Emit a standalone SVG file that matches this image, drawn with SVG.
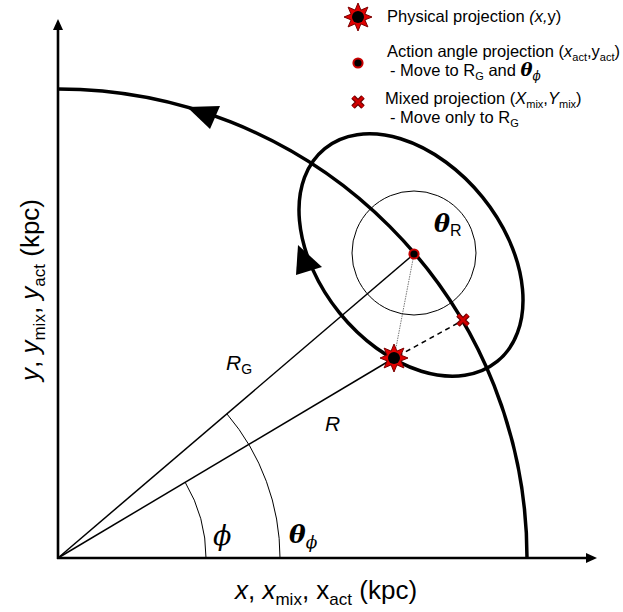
<svg xmlns="http://www.w3.org/2000/svg" width="623" height="612" viewBox="0 0 623 612">
<style>
.sans{font-family:"Liberation Sans",Arial,sans-serif;fill:#000}
.leg{font-size:16.5px}
.sub{font-size:11px}
.ax{font-size:26px}
.axsub{font-size:17px}
.gr{font-family:"DejaVu Serif","Liberation Serif",serif;font-style:italic;fill:#000}
.bi{font-weight:bold}
.thick{fill:none;stroke:#000;stroke-width:3.5}
.axis{fill:none;stroke:#000;stroke-width:2.6}
.ray{fill:none;stroke:#000;stroke-width:1.5}
.thin{fill:none;stroke:#000;stroke-width:1}
</style>
<defs>
<polygon id="star" points="0,-14 2.9,-6.9 9.9,-9.9 6.9,-2.9 14,0 6.9,2.9 9.9,9.9 2.9,6.9 0,14 -2.9,6.9 -9.9,9.9 -6.9,2.9 -14,0 -6.9,-2.9 -9.9,-9.9 -2.9,-6.9" fill="#e00000" stroke="#7a0000" stroke-width="1"/>
<g id="phys"><use href="#star"/><circle r="6" fill="#000"/></g>
<circle id="act" r="4.6" fill="#000" stroke="#c80000" stroke-width="2"/>
<g id="mix"><path d="M-5,-5L5,5M5,-5L-5,5" stroke="#6a0000" stroke-width="5"/><path d="M-5,-5L5,5M5,-5L-5,5" stroke="#d00000" stroke-width="2.6"/></g>
</defs>

<g id="axes">
<path class="axis" d="M58,559V29"/>
<polygon points="58,19 53,30 63,30" fill="#000"/>
<path class="axis" d="M57,558H587"/>
<polygon points="597,558 586,553 586,563" fill="#000"/>
<text class="sans ax" x="235" y="599"><tspan font-style="italic">x</tspan>, <tspan font-style="italic">x</tspan><tspan class="axsub" dy="6">mix</tspan><tspan dy="-6">, x</tspan><tspan class="axsub" dy="6">act</tspan><tspan dy="-6"> (kpc)</tspan></text>
<text class="sans ax" transform="translate(39,290) rotate(-90)" text-anchor="middle"><tspan font-style="italic">y</tspan>, <tspan font-style="italic">y</tspan><tspan class="axsub" dy="6">mix</tspan><tspan dy="-6">, </tspan><tspan font-style="italic">y</tspan><tspan class="axsub" dy="6">act</tspan><tspan dy="-6"> (kpc)</tspan></text>
</g>

<g id="orbit">
<path class="thick" d="M58,89A469,469 0 0 1 527,558"/>
<polygon points="187,107 220,106 210,129" fill="#000"/>
</g>

<g id="epicycle">
<ellipse class="thick" cx="411" cy="255" rx="137" ry="92" transform="rotate(51 411 255)"/>
<polygon points="298,245 296,275 322,267" fill="#000"/>
</g>

<g id="connectors">
<path class="ray" d="M58,558L414,254"/>
<path class="ray" d="M58,558L394,358"/>
<path fill="none" stroke="#000" stroke-width="1.5" stroke-dasharray="5,4" d="M398,356L458,323"/>
<path fill="none" stroke="#777" stroke-width="1" stroke-dasharray="1.5,1" d="M414,254L394,358"/>
<path class="thin" d="M206,558A148,148 0 0 0 185.2,482.3"/>
<path class="thin" d="M280,558A222,222 0 0 0 227,414"/>
<circle class="thin" cx="414" cy="253" r="62"/>
</g>

<g id="labels">
<text class="sans" font-size="21" font-style="italic" x="226" y="370">R<tspan font-style="normal" font-size="14" dy="4">G</tspan></text>
<text class="sans" font-size="21" font-style="italic" x="325" y="431">R</text>
<text class="gr" font-size="27" x="213" y="545">ϕ</text>
<text class="gr bi" font-size="25" x="289" y="543">θ<tspan class="gr" font-weight="normal" font-size="17" dy="5">ϕ</tspan></text>
<text class="gr bi" font-size="24" x="434" y="232">θ<tspan class="sans" font-style="normal" font-weight="normal" font-size="16" dy="4">R</tspan></text>
</g>

<g id="guiding-center"><use href="#act" x="414" y="254"/></g>
<g id="physical-point"><use href="#phys" x="394" y="358"/></g>
<g id="mixed-point"><use href="#mix" x="463" y="320"/></g>

<g id="legend">
<use href="#phys" x="358" y="17"/>
<text class="sans leg" x="387" y="22">Physical projection <tspan font-style="italic">(x,</tspan>y)</text>
<use href="#act" x="358" y="63"/>
<text class="sans leg" x="387" y="57">Action angle projection (<tspan font-style="italic">x</tspan><tspan class="sub" dy="4">act</tspan><tspan dy="-4">,y</tspan><tspan class="sub" dy="4">act</tspan><tspan dy="-4">)</tspan></text>
<text class="sans leg" x="390" y="76">- Move to R<tspan class="sub" dy="4">G</tspan><tspan dy="-4"> and </tspan><tspan class="gr bi" font-size="18">θ</tspan><tspan class="gr" font-size="12" dy="4">ϕ</tspan></text>
<use href="#mix" x="358" y="102"/>
<text class="sans leg" x="385" y="104">Mixed projection (<tspan font-style="italic">X</tspan><tspan class="sub" dy="4">mix</tspan><tspan dy="-4">,</tspan><tspan font-style="italic">Y</tspan><tspan class="sub" dy="4">mix</tspan><tspan dy="-4">)</tspan></text>
<text class="sans leg" x="390" y="123">- Move only to  R<tspan class="sub" dy="4">G</tspan></text>
</g>
</svg>
